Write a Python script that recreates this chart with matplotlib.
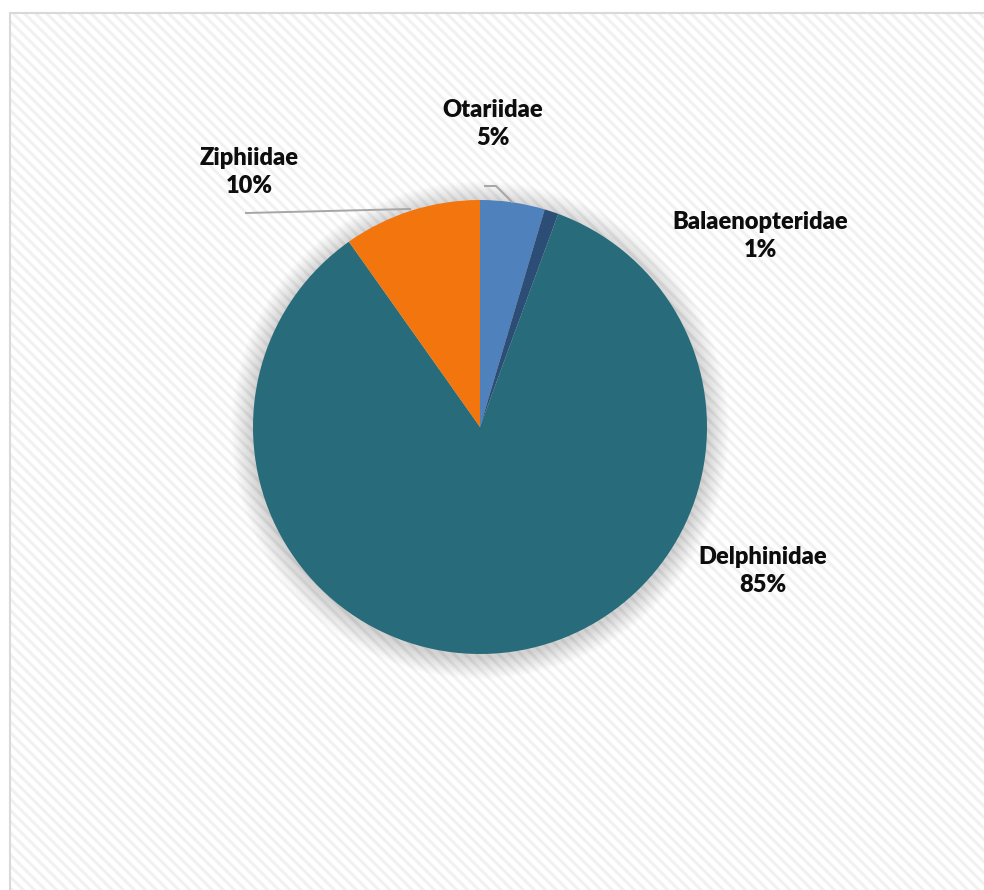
import matplotlib.pyplot as plt
from matplotlib.patches import Rectangle, Circle

plt.rcParams['font.family'] = ['Lato', 'DejaVu Sans']
plt.rcParams['hatch.color'] = '#F1F1F1'
plt.rcParams['hatch.linewidth'] = 2.2

families = ['Otariidae', 'Balaenopteridae', 'Delphinidae', 'Ziphiidae']
shares = [4.6, 1.0, 84.6, 9.8]
colors = ['#4F81BD', '#2C4D75', '#286B7A', '#F2760D']

W, H = 984, 890
fig = plt.figure(figsize=(W / 100, H / 100), dpi=100)
ax = fig.add_axes([0, 0, 1, 1])
ax.set_xlim(0, W)
ax.set_ylim(0, H)
ax.set_aspect('equal')
ax.axis('off')

# chart area: striped fill plus light border
ax.add_patch(Rectangle((10, -20), W + 20, H - 13 + 20, facecolor='white',
                       edgecolor='#F1F1F1', hatch='\\\\\\', linewidth=0, zorder=0))
ax.add_patch(Rectangle((10, -20), W + 20, H - 13 + 20, fill=False,
                       edgecolor='#D9D9D9', linewidth=1.5, zorder=1))

cx, cy, r = 480, H - 427, 227

# soft shadow behind the pie
for i in range(22):
    ax.add_patch(Circle((cx, cy - 3), r + 22 - i, facecolor='#000000',
                        alpha=0.009, linewidth=0, zorder=2))

wedges, _ = ax.pie(shares, colors=colors, startangle=90, counterclock=False,
                   center=(cx, cy), radius=r, frame=True,
                   wedgeprops=dict(linewidth=0))
for w in wedges:
    w.set_zorder(3)
ax.set_xlim(0, W)
ax.set_ylim(0, H)
ax.axis('off')

total = sum(shares)
label_pos = [(493, 124), (760, 236), (763, 571), (249, 172)]
for name, val, (tx, ty) in zip(families, shares, label_pos):
    ax.text(tx, H - ty, f'{name}\n{round(val / total * 100):.0f}%',
            ha='center', va='center', fontsize=17, fontweight='heavy',
            color='#0D0D0D', linespacing=1.3, zorder=5)

# leader lines for the two small-label slices
ax.plot([485, 496, 512], [H - 186, H - 186, H - 202], color='#A6A6A6', lw=1.4, zorder=4)
ax.plot([246, 410], [H - 213, H - 209], color='#A6A6A6', lw=1.4, zorder=4)

fig.savefig('out.png', dpi=100)
